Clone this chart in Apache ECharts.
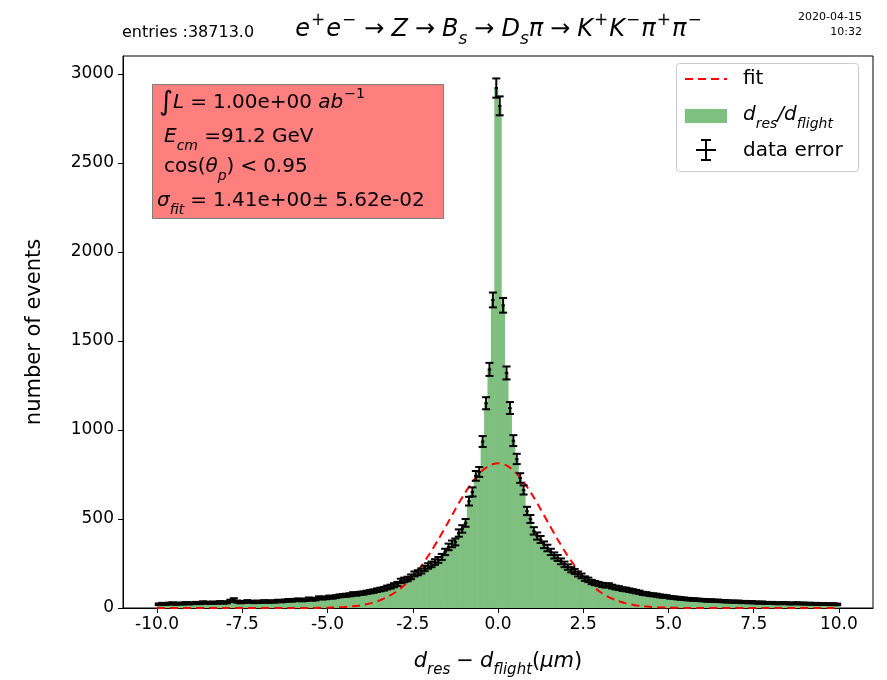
<!DOCTYPE html>
<html>
<head>
<meta charset="utf-8">
<script src="https://cdn.jsdelivr.net/npm/echarts@6/dist/echarts.min.js"></script>
<style>
  html, body { margin: 0; padding: 0; background: #fff; }
  #chart { width: 887px; height: 680px; }
</style>
</head>
<body>
<div id="chart"></div>
<script>
// histogram: 200 bins of width 0.1 between -10 and 10
const binStart = -10;
const binWidth = 0.1;
const counts = [
  21, 24, 22, 25, 27, 23, 26, 24, 28, 25,
  27, 29, 27, 32, 30, 28, 31, 29, 33, 30,
  32, 40, 48, 36, 32, 34, 38, 35, 33, 36,
  34, 38, 35, 37, 36, 40, 38, 41, 44, 42,
  45, 47, 44, 46, 52, 48, 50, 58, 55, 57,
  62, 60, 64, 68, 70, 72, 74, 80, 78, 82,
  84, 88, 92, 95, 100, 104, 108, 115, 120, 128,
  135, 152, 158, 163, 175, 191, 198, 208, 222, 236,
  245, 258, 270, 287, 315, 343, 360, 371, 421, 444,
  478, 600, 652, 742, 764, 935, 1150, 1340, 1730, 2920,
  2820, 1700, 1320, 1123, 940, 837, 730, 663, 545, 500,
  433, 404, 385, 355, 337, 315, 295, 281, 262, 245,
  230, 215, 205, 191, 180, 165, 158, 146, 140, 135,
  130, 126, 128, 120, 115, 112, 106, 104, 100, 96,
  92, 88, 82, 80, 76, 74, 72, 68, 66, 64,
  60, 58, 56, 54, 52, 50, 49, 48, 46, 45,
  44, 42, 43, 40, 41, 39, 38, 37, 36, 35,
  36, 33, 34, 32, 33, 31, 30, 31, 29, 28,
  29, 27, 26, 28, 27, 25, 26, 27, 25, 26,
  24, 25, 23, 24, 22, 23, 22, 21, 22, 20
];

// gaussian fit curve
const fitX = [-10, -8, -6, -5.5, -5, -4.75, -4.5, -4.25, -4, -3.75, -3.5, -3.25, -3, -2.75, -2.5, -2.25, -2,
  -1.75, -1.5, -1.25, -1, -0.75, -0.5, -0.25, 0, 0.25, 0.5, 0.75, 1, 1.25, 1.5, 1.75,
  2, 2.25, 2.5, 2.75, 3, 3.25, 3.5, 3.75, 4, 4.25, 4.5, 4.75, 5, 5.5, 6, 8, 10];
const fitY = [0, 0, 0, 0.5, 2, 3, 6, 10, 16, 26, 41, 61, 90, 128, 176, 236, 306,
  385, 469, 555, 637, 708, 765, 801, 813, 801, 765, 708, 637, 555, 469, 385,
  306, 236, 176, 128, 90, 61, 41, 26, 16, 10, 6, 3, 2, 0.5, 0, 0, 0];

const xTicks = [-10, -7.5, -5, -2.5, 0, 2.5, 5, 7.5, 10];
const yTicks = [0, 500, 1000, 1500, 2000, 2500, 3000];

const histData = counts.map((n, i) => [binStart + binWidth * (i + 0.5), n]);
const fitData = fitX.map((x, i) => [x, fitY[i]]);

const FONT = 'DejaVu Sans';
const chart = echarts.init(document.getElementById('chart'));

// mathtext-ish rich styles
const mathRich = (size) => {
  const s = Math.round(size * 0.7);
  const sp = Math.round(size * 0.28);
  return {
    n: { fontFamily: FONT, fontSize: size, color: '#000', lineHeight: size + 12 },
    i: { fontFamily: FONT, fontSize: size, fontStyle: 'italic', color: '#000', lineHeight: size + 12 },
    rel: { fontFamily: FONT, fontSize: size, color: '#000', lineHeight: size + 12, padding: [0, sp, 0, sp] },
    big: { fontFamily: FONT, fontSize: size + 7, color: '#000', lineHeight: size + 12 },
    sup: { fontFamily: FONT, fontSize: s, color: '#000', lineHeight: s, verticalAlign: 'top', padding: [0, 1, 0, 1] },
    sub: { fontFamily: FONT, fontSize: s, fontStyle: 'italic', color: '#000', lineHeight: s, verticalAlign: 'bottom' }
  };
};

chart.setOption({
  animation: false,
  backgroundColor: '#fff',
  grid: {
    left: 123, right: 14, top: 56, bottom: 72,
    outerBoundsMode: 'none',
    show: true, borderColor: '#000', borderWidth: 1, backgroundColor: 'transparent'
  },
  xAxis: {
    type: 'value', min: -11, max: 11,
    axisLine: { onZero: false, lineStyle: { color: '#000' } },
    axisTick: { show: true, length: 5, lineStyle: { color: '#000' }, customValues: xTicks },
    axisLabel: {
      fontFamily: FONT, fontSize: 17, color: '#000', margin: 8,
      customValues: xTicks, formatter: v => v.toFixed(1)
    },
    splitLine: { show: false },
    name: '{i|d}{sub|res}{rel|−}{i|d}{sub|flight}{n|(}{i|μm}{n|)}',
    nameLocation: 'middle', nameGap: 37,
    nameTextStyle: { rich: mathRich(21) }
  },
  yAxis: {
    type: 'value', min: 0, max: 3100,
    axisLine: { show: true, onZero: false, lineStyle: { color: '#000' } },
    axisTick: { show: true, length: 5, lineStyle: { color: '#000' }, customValues: yTicks },
    axisLabel: {
      fontFamily: FONT, fontSize: 17, color: '#000', margin: 9,
      customValues: yTicks, formatter: v => String(v)
    },
    splitLine: { show: false },
    name: 'number of events', nameLocation: 'middle', nameGap: 78,
    nameTextStyle: { fontFamily: FONT, fontSize: 21, color: '#000' }
  },
  series: [
    {
      name: 'hist', type: 'custom', data: histData, z: 1,
      renderItem: (params, api) => {
        const x = api.value(0), n = api.value(1);
        const p0 = api.coord([x - binWidth / 2, n]);
        const p1 = api.coord([x + binWidth / 2, 0]);
        return {
          type: 'rect',
          shape: { x: p0[0] - 0.3, y: p0[1], width: p1[0] - p0[0] + 0.6, height: p1[1] - p0[1] },
          style: { fill: '#7fbf7f' }
        };
      }
    },
    {
      name: 'fit', type: 'line', data: fitData, z: 2,
      showSymbol: false, symbol: 'none', smooth: 0.2,
      lineStyle: { color: '#ff0000', width: 2, type: [8, 5] }
    },
    {
      name: 'data error', type: 'custom', data: histData, z: 3,
      renderItem: (params, api) => {
        const x = api.value(0), n = api.value(1), e = Math.sqrt(n);
        const t = api.coord([x, n + e]);
        const b = api.coord([x, n - e]);
        const l = api.coord([x - binWidth / 2, n]);
        const r = api.coord([x + binWidth / 2, n]);
        const cap = 4;
        const st = { stroke: '#000', lineWidth: 2 };
        return {
          type: 'group',
          children: [
            { type: 'line', shape: { x1: t[0], y1: t[1], x2: b[0], y2: b[1] }, style: st },
            { type: 'line', shape: { x1: t[0] - cap, y1: t[1], x2: t[0] + cap, y2: t[1] }, style: st },
            { type: 'line', shape: { x1: b[0] - cap, y1: b[1], x2: b[0] + cap, y2: b[1] }, style: st },
            { type: 'line', shape: { x1: l[0], y1: l[1], x2: r[0], y2: r[1] }, style: st }
          ]
        };
      }
    }
  ],
  graphic: [
    // header texts
    { type: 'text', x: 122, y: 33, style: { text: 'entries :38713.0', fontFamily: FONT, fontSize: 16, fill: '#000', verticalAlign: 'middle' } },
    {
      type: 'text', x: 499, y: 30,
      style: {
        text: '{i|e}{sup|+}{i|e}{sup|−}{rel|→}{i|Z}{rel|→}{i|B}{sub|s}{rel|→}{i|D}{sub|s}{i|π}{rel|→}{i|K}{sup|+}{i|K}{sup|−}{i|π}{sup|+}{i|π}{sup|−}',
        rich: mathRich(24), align: 'center', verticalAlign: 'middle'
      }
    },
    { type: 'text', x: 862, y: 17, style: { text: '2020-04-15', fontFamily: FONT, fontSize: 11, fill: '#000', align: 'right', verticalAlign: 'middle' } },
    { type: 'text', x: 862, y: 32, style: { text: '10:32', fontFamily: FONT, fontSize: 11, fill: '#000', align: 'right', verticalAlign: 'middle' } },
    // info box
    {
      type: 'rect', shape: { x: 152.5, y: 84.5, width: 291, height: 134 }, z: 10,
      style: { fill: '#ff7f7f', stroke: '#7f7f7f', lineWidth: 1 }
    },
    { type: 'text', x: 159, y: 103, z: 11, style: { text: '{big|∫}{i|L}{rel|=}{n|1.00e+00 }{i|ab}{sup|−1}', rich: mathRich(20), verticalAlign: 'middle' } },
    { type: 'text', x: 164, y: 137, z: 11, style: { text: '{i|E}{sub|cm}{n| =91.2 GeV}', rich: mathRich(20), verticalAlign: 'middle' } },
    { type: 'text', x: 164, y: 167, z: 11, style: { text: '{n|cos(}{i|θ}{sub|p}{n|)}{rel|<}{n|0.95}', rich: mathRich(20), verticalAlign: 'middle' } },
    { type: 'text', x: 157, y: 201, z: 11, style: { text: '{i|σ}{sub|fit}{rel|=}{n|1.41e+00± 5.62e-02}', rich: mathRich(20), verticalAlign: 'middle' } },
    // legend
    {
      type: 'rect', shape: { x: 676.5, y: 63.5, width: 182, height: 108, r: 3 }, z: 10,
      style: { fill: 'rgba(255,255,255,0.8)', stroke: '#cccccc', lineWidth: 1 }
    },
    { type: 'line', shape: { x1: 685, y1: 79, x2: 727, y2: 79 }, z: 11, style: { stroke: '#ff0000', lineWidth: 2, lineDash: [8, 5] } },
    { type: 'text', x: 743, y: 79, z: 11, style: { text: 'fit', fontFamily: FONT, fontSize: 20, fill: '#000', verticalAlign: 'middle' } },
    { type: 'rect', shape: { x: 685, y: 109, width: 42, height: 14 }, z: 11, style: { fill: '#7fbf7f' } },
    { type: 'text', x: 743, y: 115, z: 11, style: { text: '{i|d}{sub|res}{i|/d}{sub|flight}', rich: mathRich(20), verticalAlign: 'middle' } },
    { type: 'line', shape: { x1: 706, y1: 140, x2: 706, y2: 160 }, z: 11, style: { stroke: '#000', lineWidth: 2 } },
    { type: 'line', shape: { x1: 701, y1: 140, x2: 711, y2: 140 }, z: 11, style: { stroke: '#000', lineWidth: 2 } },
    { type: 'line', shape: { x1: 701, y1: 160, x2: 711, y2: 160 }, z: 11, style: { stroke: '#000', lineWidth: 2 } },
    { type: 'line', shape: { x1: 696, y1: 150, x2: 716, y2: 150 }, z: 11, style: { stroke: '#000', lineWidth: 2 } },
    { type: 'text', x: 743, y: 151, z: 11, style: { text: 'data error', fontFamily: FONT, fontSize: 20, fill: '#000', verticalAlign: 'middle' } }
  ]
});
</script>
</body>
</html>
